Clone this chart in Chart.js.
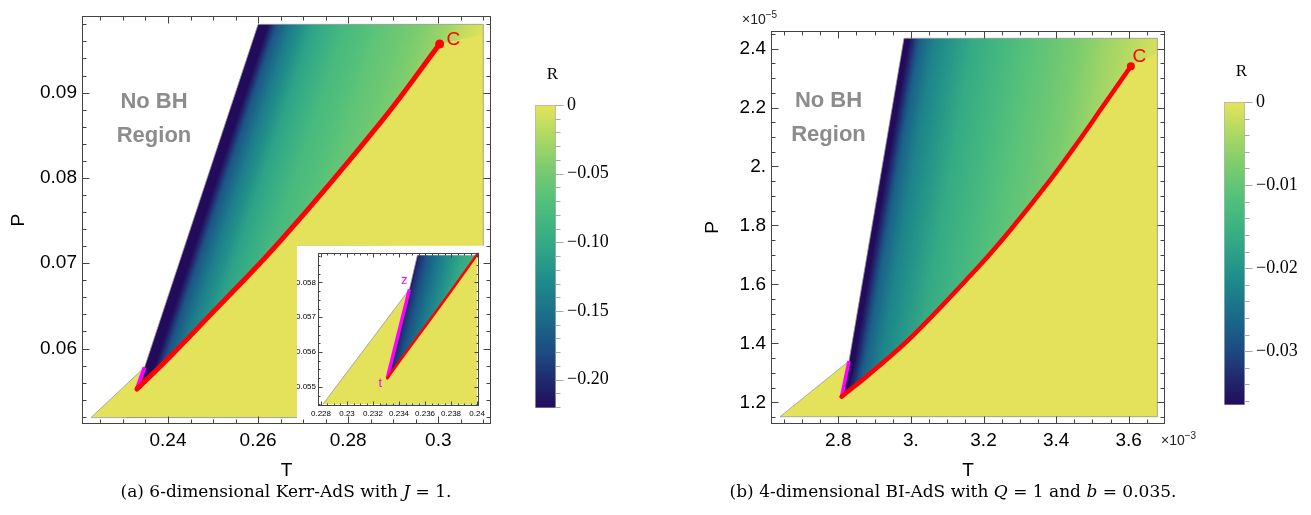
<!DOCTYPE html>
<html>
<head>
<meta charset="utf-8">
<title>R on the P-T plane</title>
<script src="https://cdn.jsdelivr.net/npm/chart.js@4.4.1/dist/chart.umd.min.js"></script>
<style>
  body { margin: 0; width: 1311px; height: 515px; position: relative; overflow: hidden; background: #fff; }
  canvas { position: absolute; }
  .cap { position: absolute; top: 481px; font: 17px "DejaVu Serif", serif; white-space: nowrap; transform: translateX(-50%); }
  .mult { position: absolute; font: 14px "Liberation Sans", sans-serif; color: #222; }
  .mult sup { font-size: 10px; }
</style>
</head>
<body>
<canvas id="kerrInset" width="193" height="177" style="left:297px;top:246px"></canvas>
<canvas id="kerrChart" width="530" height="482" style="left:0;top:0"></canvas>
<canvas id="kerrBar" width="110" height="370" style="left:520px;top:60px"></canvas>
<canvas id="biChart" width="500" height="482" style="left:700px;top:0"></canvas>
<canvas id="biBar" width="102" height="370" style="left:1209px;top:57px"></canvas>
<div class="mult" style="left:742px;top:9px">×10<sup>−5</sup></div>
<div class="mult" style="left:1161px;top:430px">×10<sup>−3</sup></div>
<div class="cap" style="left:286px">(a) 6-dimensional Kerr-AdS with <i>J</i> = 1.</div>
<div class="cap" style="left:953px">(b) 4-dimensional BI-AdS with <i>Q</i> = 1 and <i>b</i> = 0.035.</div>
<script>
// colour scale (BlueGreenYellow-like), position 0 = most negative R
const cmapStop  = [0, 0.08, 0.18, 0.30, 0.42, 0.55, 0.68, 0.80, 0.90, 1];
const cmapColor = ['#230b5c', '#20266c', '#1c4a82', '#1b6c8a', '#1f8c8a', '#35ab85', '#52c07b', '#7ecd6e', '#b0d963', '#e6e45a'];

// ---- (a) 6D Kerr-AdS, J = 1 ----
const kerrCoexT = [0.2331, 0.2400, 0.2486, 0.2651, 0.2875, 0.3003];
const kerrCoexP = [0.05525, 0.0588, 0.0635, 0.0727, 0.0867, 0.0957];
const kerrTzT = [0.2331, 0.2348];
const kerrTzP = [0.05525, 0.0578];
const kerrSpinT = [0.2331, 0.2348, 0.2600];
const kerrSpinP = [0.05525, 0.0578, 0.0980];
const kerrDomainT = [0.2229, 0.2348, 0.2600, 0.3100, 0.3100];
const kerrDomainP = [0.0519, 0.0578, 0.0980, 0.0980, 0.0519];
const kerrYellowStartT = [0.2229, 0.2348];
const kerrYellowStartP = [0.0519, 0.0578];
const kerrYellowEndT = [0.3100, 0.3100];
const kerrYellowEndP = [0.0968, 0.0519];
// R against distance in T from the spinodal edge
const kerrFieldD = [0, 0.0022, 0.0042, 0.0072, 0.0122, 0.0196, 0.0272, 0.0350, 0.0420, 0.0470, 0.0520];
const kerrFieldR = [-0.2208, -0.2208, -0.172, -0.142, -0.108, -0.080, -0.063, -0.048, -0.030, -0.012, 0];
const kerrInsetFieldD = [0, 0.00015, 0.0008, 0.00157, 0.00235, 0.00337, 0.0044, 0.0080];
const kerrInsetFieldR = [-0.2208, -0.200, -0.172, -0.148, -0.128, -0.104, -0.088, -0.060];
const kerrRMin = -0.2208;
const kerrTTicks = [0.24, 0.26, 0.28, 0.30];
const kerrTLabels = ['0.24', '0.26', '0.28', '0.3'];
const kerrPTicks = [0.06, 0.07, 0.08, 0.09];
const kerrPLabels = ['0.06', '0.07', '0.08', '0.09'];
const insetTTicks = [0.228, 0.230, 0.232, 0.234, 0.236, 0.238, 0.240];
const insetTLabels = ['0.228', '0.23', '0.232', '0.234', '0.236', '0.238', '0.24'];
const insetPTicks = [0.055, 0.056, 0.057, 0.058];
const insetPLabels = ['0.055', '0.056', '0.057', '0.058'];
const kerrBarTicks = [0, -0.05, -0.10, -0.15, -0.20];
const kerrBarLabels = ['0', '\u22120.05', '\u22120.10', '\u22120.15', '\u22120.20'];

// ---- (b) 4D BI-AdS, Q = 1, b = 0.035  (T in 1e-3, P in 1e-5) ----
const biCoexT = [2.809, 2.887, 3.007, 3.190, 3.273, 3.383, 3.457, 3.530, 3.606];
const biCoexP = [1.219, 1.297, 1.428, 1.665, 1.783, 1.953, 2.077, 2.206, 2.340];
const biTzT = [2.809, 2.8295];
const biTzP = [1.219, 1.340];
const biSpinT = [2.809, 2.8295, 2.981];
const biSpinP = [1.219, 1.340, 2.435];
const biDomainT = [2.6394, 2.8295, 2.981, 3.679, 3.679];
const biDomainP = [1.1512, 1.340, 2.435, 2.435, 1.1512];
const biYellowStartT = [2.6394, 2.8295];
const biYellowStartP = [1.1512, 1.340];
const biYellowEndT = [3.679, 3.679];
const biYellowEndP = [2.385, 1.1512];
const biFieldD = [0, 0.014, 0.045, 0.088, 0.190, 0.330, 0.470, 0.560, 0.680, 0.740];
const biFieldR = [-0.0365, -0.0365, -0.0270, -0.0222, -0.0165, -0.0117, -0.0080, -0.0050, -0.0018, 0];
const biRMin = -0.0365;
const biTTicks = [2.8, 3.0, 3.2, 3.4, 3.6];
const biTLabels = ['2.8', '3.', '3.2', '3.4', '3.6'];
const biPTicks = [1.2, 1.4, 1.6, 1.8, 2.0, 2.2, 2.4];
const biPLabels = ['1.2', '1.4', '1.6', '1.8', '2.', '2.2', '2.4'];
const biBarTicks = [0, -0.01, -0.02, -0.03];
const biBarLabels = ['0', '\u22120.01', '\u22120.02', '\u22120.03'];

const sans = '"Liberation Sans", Arial, sans-serif';
const serif = '"Liberation Serif", "Times New Roman", serif';
const yellow = '#e4e25a';

function range(a, b, step) {
  const out = [];
  for (let v = a; v <= b + step * 1e-6; v += step) out.push(+v.toFixed(6));
  return out;
}

function interp(xs, ys, x) {
  let i = 1;
  while (i < xs.length - 1 && x > xs[i]) i++;
  const t = (x - xs[i - 1]) / (xs[i] - xs[i - 1]);
  return ys[i - 1] + t * (ys[i] - ys[i - 1]);
}

function hexRgb(h) {
  return [parseInt(h.slice(1, 3), 16), parseInt(h.slice(3, 5), 16), parseInt(h.slice(5, 7), 16)];
}
const cmapRgb = cmapColor.map(hexRgb);

function cmap(t) {
  t = Math.max(0, Math.min(1, t));
  let i = 1;
  while (i < cmapStop.length - 1 && t > cmapStop[i]) i++;
  const f = (t - cmapStop[i - 1]) / (cmapStop[i] - cmapStop[i - 1]);
  const a = cmapRgb[i - 1], b = cmapRgb[i];
  return 'rgb(' + a.map((c, k) => Math.round(c + f * (b[k] - c))).join(',') + ')';
}

function polyPath(ctx, xs, ys, T, P, move) {
  T.forEach((t, i) => {
    const x = xs.getPixelForValue(t), y = ys.getPixelForValue(P[i]);
    if (i === 0 && move) ctx.moveTo(x, y); else ctx.lineTo(x, y);
  });
}

// density of R: row gradients starting at the spinodal, yellow below coexistence
const rFieldPlugin = {
  id: 'rfield',
  beforeDatasetsDraw(chart, args, o) {
    if (!o || !o.fieldD) return;
    const ctx = chart.ctx, a = chart.chartArea;
    const xs = chart.scales.x, ys = chart.scales.y;
    const fd = Array.from(o.fieldD), fr = Array.from(o.fieldR);
    const spT = Array.from(o.spinT), spP = Array.from(o.spinP);
    const dMax = fd[fd.length - 1];

    ctx.save();
    ctx.beginPath();
    if (o.rangeT) {
      const l = xs.getPixelForValue(o.rangeT[0]), r = xs.getPixelForValue(o.rangeT[1]);
      const t = ys.getPixelForValue(o.rangeP[1]), b = ys.getPixelForValue(o.rangeP[0]);
      ctx.rect(l, t, r - l, b - t);
    } else {
      ctx.rect(a.left, a.top, a.right - a.left, a.bottom - a.top);
    }
    if (o.hole) ctx.rect(o.hole[0], o.hole[1], o.hole[2], o.hole[3]);
    ctx.clip('evenodd');

    ctx.save();
    ctx.beginPath();
    polyPath(ctx, xs, ys, o.domainT, o.domainP, true);
    ctx.closePath();
    ctx.clip();

    for (let y = Math.floor(a.top); y < a.bottom; y++) {
      const P = ys.getValueForPixel(y + 0.5);
      const Ts = interp(spP, spT, P);
      const x0 = xs.getPixelForValue(Ts), x1 = xs.getPixelForValue(Ts + dMax);
      const g = ctx.createLinearGradient(x0, 0, x1, 0);
      for (let i = 0; i < fd.length - 1; i++) {
        for (let k = 0; k < 6; k++) {
          const f = k / 6;
          const d = fd[i] + f * (fd[i + 1] - fd[i]);
          const R = fr[i] + f * (fr[i + 1] - fr[i]);
          g.addColorStop(d / dMax, cmap(1 - R / o.rMin));
        }
      }
      g.addColorStop(1, cmap(1 - fr[fr.length - 1] / o.rMin));
      ctx.fillStyle = g;
      ctx.fillRect(x0 - 1, y, a.right - x0 + 2, 1);
    }

    // yellow side of the coexistence curve, following the drawn curve
    const meta = chart.getDatasetMeta(o.coexIndex);
    if (meta.dataset && meta.dataset.updateControlPoints) meta.dataset.updateControlPoints(a, 'x');
    const pts = meta.data;
    ctx.beginPath();
    polyPath(ctx, xs, ys, o.yStartT, o.yStartP, true);
    ctx.lineTo(pts[0].x, pts[0].y);
    for (let i = 1; i < pts.length; i++) {
      const p0 = pts[i - 1], p1 = pts[i];
      if (p0.cp2x !== undefined && p1.cp1x !== undefined) ctx.bezierCurveTo(p0.cp2x, p0.cp2y, p1.cp1x, p1.cp1y, p1.x, p1.y);
      else ctx.lineTo(p1.x, p1.y);
    }
    polyPath(ctx, xs, ys, o.yEndT, o.yEndP, false);
    ctx.closePath();
    ctx.fillStyle = o.yellow;
    ctx.fill();
    ctx.restore();

    ctx.beginPath();
    polyPath(ctx, xs, ys, o.domainT, o.domainP, true);
    ctx.closePath();
    ctx.strokeStyle = 'rgba(150,150,150,0.8)';
    ctx.lineWidth = 1;
    ctx.stroke();
    ctx.restore();
  }
};

// Mathematica-like frame with inward ticks on all four sides
const frameTicksPlugin = {
  id: 'frameTicks',
  afterDraw(chart, args, o) {
    if (!o || !o.xMajor) return;
    const ctx = chart.ctx, a = chart.chartArea;
    const xs = chart.scales.x, ys = chart.scales.y;
    const L = Math.round(a.left) + 0.5, R = Math.round(a.right) - 0.5;
    const T = Math.round(a.top) + 0.5, B = Math.round(a.bottom) - 0.5;
    ctx.save();
    ctx.strokeStyle = o.color;
    ctx.lineWidth = 1;
    ctx.beginPath();
    const xt = (vals, len) => vals.forEach(v => {
      const x = Math.round(xs.getPixelForValue(v)) + 0.5;
      if (x < L || x > R) return;
      ctx.moveTo(x, B); ctx.lineTo(x, B - len);
      ctx.moveTo(x, T); ctx.lineTo(x, T + len);
    });
    const yt = (vals, len) => vals.forEach(v => {
      const y = Math.round(ys.getPixelForValue(v)) + 0.5;
      if (y < T || y > B) return;
      ctx.moveTo(L, y); ctx.lineTo(L + len, y);
      ctx.moveTo(R, y); ctx.lineTo(R - len, y);
    });
    xt(Array.from(o.xMajor), o.major); xt(Array.from(o.xMinor), o.minor);
    yt(Array.from(o.yMajor), o.major); yt(Array.from(o.yMinor), o.minor);
    ctx.stroke();
    ctx.strokeRect(L, T, R - L, B - T);
    ctx.restore();
  }
};

const notesPlugin = {
  id: 'notes',
  afterDatasetsDraw(chart, args, o) {
    if (!o || !o.items) return;
    const ctx = chart.ctx;
    Array.from(o.items).forEach(n => {
      ctx.save();
      ctx.font = n.font;
      ctx.fillStyle = n.color;
      ctx.textAlign = 'center';
      ctx.textBaseline = 'middle';
      ctx.fillText(n.text, chart.scales.x.getPixelForValue(n.T), chart.scales.y.getPixelForValue(n.P));
      ctx.restore();
    });
  }
};

const whiteBg = {
  id: 'whiteBg',
  beforeDraw(chart, args, o) {
    if (!o || !o.on) return;
    chart.ctx.save();
    chart.ctx.fillStyle = '#fff';
    chart.ctx.fillRect(0, 0, chart.width, chart.height);
    chart.ctx.restore();
  }
};

function axis(min, max, ticks, labels, o) {
  return {
    type: 'linear', min: min, max: max,
    afterBuildTicks: s => { s.ticks = ticks.map(v => ({ value: v })); },
    afterFit: s => { if (s.isHorizontal()) s.height = o.size; else s.width = o.size; },
    grid: { display: false, drawTicks: false },
    border: { display: false },
    ticks: { autoSkip: false, maxRotation: 0, padding: o.pad, color: '#000', font: { family: sans, size: o.font }, callback: (v, i) => labels[i] },
    title: o.title ? { display: true, text: o.title, color: '#000', font: { family: sans, size: 19 }, padding: o.titlePad } : { display: false }
  };
}

function pts(T, P) { return T.map((t, i) => ({ x: t, y: P[i] })); }

function curveSets(cT, cP, tzT, tzP, w) {
  const last = cT.length - 1;
  return [
    { data: [{ x: cT[last], y: cP[last] }], showLine: false, pointRadius: w.dot, pointBackgroundColor: '#ff0000', pointBorderWidth: 0 },
    { data: pts(cT, cP), showLine: true, borderColor: '#ff0000', borderWidth: w.red, pointRadius: 0, tension: 0.4, borderCapStyle: 'round', fill: false },
    { data: pts(tzT, tzP), showLine: true, borderColor: '#ff00ff', borderWidth: w.mag, pointRadius: 0, borderCapStyle: 'butt', fill: false }
  ];
}

function planeChart(id, c) {
  return new Chart(document.getElementById(id), {
    type: 'scatter',
    data: { datasets: c.datasets },
    options: {
      responsive: false, animation: false, devicePixelRatio: 1, events: [],
      layout: { padding: c.padding },
      scales: { x: c.x, y: c.y },
      plugins: {
        legend: { display: false }, tooltip: { enabled: false },
        rfield: c.field, frameTicks: c.frame, notes: { items: c.notes }, whiteBg: { on: !!c.white }
      }
    },
    plugins: [whiteBg, rFieldPlugin, frameTicksPlugin, notesPlugin]
  });
}

const barTicksPlugin = {
  id: 'barTicks',
  afterDraw(chart, args, o) {
    if (!o || !o.major) return;
    const ctx = chart.ctx, a = chart.chartArea, ys = chart.scales.y;
    ctx.save();
    ctx.strokeStyle = '#a8a8a8';
    ctx.lineWidth = 1;
    ctx.beginPath();
    const x = Math.round(a.right) + 0.5;
    Array.from(o.minor).forEach(v => { const y = Math.round(ys.getPixelForValue(v)) + 0.5; ctx.moveTo(x - 1, y); ctx.lineTo(x + 4, y); });
    Array.from(o.major).forEach(v => { const y = Math.round(ys.getPixelForValue(v)) + 0.5; ctx.moveTo(x - 1, y); ctx.lineTo(x + 7, y); });
    ctx.stroke();
    ctx.fillStyle = '#000';
    ctx.font = '17px ' + serif;
    ctx.textAlign = 'center';
    ctx.textBaseline = 'middle';
    ctx.fillText('R', (a.left + a.right) / 2 + 7, a.top - 30);
    ctx.restore();
  }
};

function colorBar(id, rMin, ticks, labels, minorStep, padding) {
  return new Chart(document.getElementById(id), {
    type: 'bar',
    data: {
      labels: ['R'],
      datasets: [{
        data: [[rMin, 0]],
        backgroundColor: c => {
          const a = c.chart.chartArea;
          if (!a) return null;
          const g = c.chart.ctx.createLinearGradient(0, a.bottom, 0, a.top);
          cmapStop.forEach((s, i) => g.addColorStop(s, cmapColor[i]));
          return g;
        },
        borderColor: '#b4b4b4', borderWidth: 1, borderSkipped: false,
        barPercentage: 1, categoryPercentage: 1
      }]
    },
    options: {
      responsive: false, animation: false, devicePixelRatio: 1, events: [],
      layout: { padding: padding },
      scales: {
        x: { display: false },
        y: {
          position: 'right', min: rMin, max: 0,
          afterBuildTicks: s => { s.ticks = ticks.map(v => ({ value: v })); },
          afterFit: s => { s.width = 60; },
          grid: { display: false, drawTicks: false },
          border: { display: false },
          ticks: { autoSkip: false, padding: 11, color: '#000', font: { family: serif, size: 18 }, callback: (v, i) => labels[i] }
        }
      },
      plugins: {
        legend: { display: false }, tooltip: { enabled: false },
        barTicks: { major: ticks, minor: range(rMin < -0.1 ? -0.22 : -0.036, 0, minorStep).filter(v => v >= rMin) }
      }
    },
    plugins: [barTicksPlugin]
  });
}

// (a) main panel
planeChart('kerrChart', {
  datasets: curveSets(kerrCoexT, kerrCoexP, kerrTzT, kerrTzP, { dot: 4.5, red: 5, mag: 4 }),
  padding: { left: 0, right: 39, top: 15, bottom: 0 },
  x: axis(0.22091, 0.31170, kerrTTicks, kerrTLabels, { size: 58, pad: 5, font: 19, title: 'T', titlePad: { top: 0, bottom: 0 } }),
  y: axis(0.05115, 0.09893, kerrPTicks, kerrPLabels, { size: 82, pad: 5, font: 19, title: 'P', titlePad: { top: 7, bottom: 0 } }),
  field: {
    fieldD: kerrFieldD, fieldR: kerrFieldR, rMin: kerrRMin, spinT: kerrSpinT, spinP: kerrSpinP,
    domainT: kerrDomainT, domainP: kerrDomainP, yStartT: kerrYellowStartT, yStartP: kerrYellowStartP,
    yEndT: kerrYellowEndT, yEndP: kerrYellowEndP, coexIndex: 1, yellow: yellow, hole: [297, 245.5, 220, 220]
  },
  frame: { xMajor: kerrTTicks, xMinor: range(0.225, 0.31, 0.005), yMajor: kerrPTicks, yMinor: range(0.052, 0.098, 0.002), major: 7, minor: 4, color: '#444' },
  notes: [
    { text: 'No BH', T: 0.23689, P: 0.08895, font: 'bold 22px ' + sans, color: '#8c8c8c' },
    { text: 'Region', T: 0.23689, P: 0.08496, font: 'bold 22px ' + sans, color: '#8c8c8c' },
    { text: 'C', T: 0.30333, P: 0.09621, font: '19px ' + sans, color: '#ff0000' }
  ]
});

// (a) inset
planeChart('kerrInset', {
  white: true,
  datasets: curveSets(kerrCoexT, kerrCoexP, kerrTzT, kerrTzP, { dot: 0, red: 2.5, mag: 3.5 }),
  padding: { left: 0, right: 11, top: 1, bottom: 0 },
  x: axis(0.22777, 0.24015, insetTTicks, insetTLabels, { size: 17, pad: 3, font: 8 }),
  y: axis(0.05445, 0.05885, insetPTicks, insetPLabels, { size: 21, pad: 2, font: 8 }),
  field: {
    fieldD: kerrInsetFieldD, fieldR: kerrInsetFieldR, rMin: kerrRMin, spinT: kerrSpinT, spinP: kerrSpinP,
    domainT: kerrDomainT, domainP: kerrDomainP, yStartT: kerrYellowStartT, yStartP: kerrYellowStartP,
    yEndT: kerrYellowEndT, yEndP: kerrYellowEndP, coexIndex: 1, yellow: yellow,
    rangeT: [0.228, 0.240], rangeP: [0.0545, 0.05878]
  },
  frame: { xMajor: insetTTicks, xMinor: range(0.228, 0.240, 0.0005), yMajor: insetPTicks, yMinor: range(0.0545, 0.05875, 0.00025), major: 4, minor: 2, color: '#444' },
  notes: [
    { text: 'z', T: 0.23441, P: 0.05807, font: '13px ' + sans, color: '#ff00ff' },
    { text: 't', T: 0.23256, P: 0.05511, font: '13px ' + sans, color: '#ff00ff' }
  ]
});

colorBar('kerrBar', kerrRMin, kerrBarTicks, kerrBarLabels, 0.01, { left: 15, right: 14, top: 45, bottom: 12 });

// (b) panel
planeChart('biChart', {
  datasets: curveSets(biCoexT, biCoexP, biTzT, biTzP, { dot: 4, red: 4.5, mag: 3.5 }),
  padding: { left: 0, right: 35, top: 31, bottom: 0 },
  x: axis(2.6146, 3.700, biTTicks, biTLabels, { size: 58, pad: 5, font: 19, title: 'T', titlePad: { top: 0, bottom: 0 } }),
  y: axis(1.1264, 2.4597, biPTicks, biPLabels, { size: 71, pad: 5, font: 19, title: 'P', titlePad: { top: 1, bottom: 0 } }),
  field: {
    fieldD: biFieldD, fieldR: biFieldR, rMin: biRMin, spinT: biSpinT, spinP: biSpinP,
    domainT: biDomainT, domainP: biDomainP, yStartT: biYellowStartT, yStartP: biYellowStartP,
    yEndT: biYellowEndT, yEndP: biYellowEndP, coexIndex: 1, yellow: yellow
  },
  frame: { xMajor: biTTicks, xMinor: range(2.65, 3.70, 0.05), yMajor: biPTicks, yMinor: range(1.15, 2.45, 0.05), major: 7, minor: 4, color: '#444' },
  notes: [
    { text: 'No BH', T: 2.773, P: 2.2214, font: 'bold 22px ' + sans, color: '#8c8c8c' },
    { text: 'Region', T: 2.773, P: 2.1058, font: 'bold 22px ' + sans, color: '#8c8c8c' },
    { text: 'C', T: 3.6292, P: 2.3715, font: '19px ' + sans, color: '#ff0000' }
  ]
});

colorBar('biBar', biRMin, biBarTicks, biBarLabels, 0.002, { left: 15, right: 6, top: 45, bottom: 14 });
</script>
</body>
</html>
